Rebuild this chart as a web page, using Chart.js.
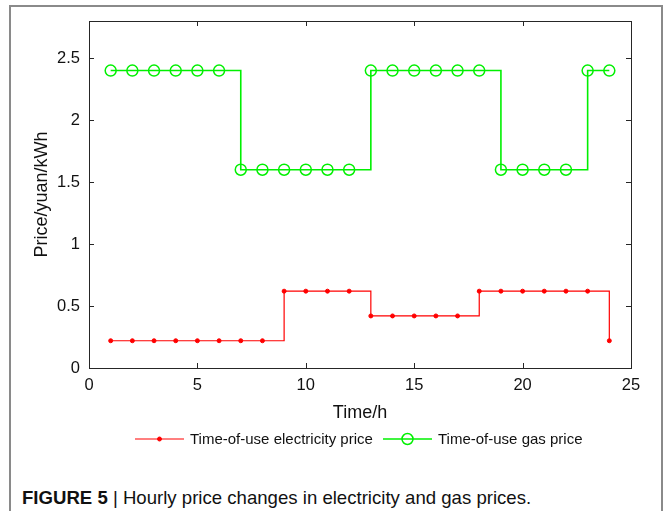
<!DOCTYPE html>
<html>
<head>
<meta charset="utf-8">
<script src="https://cdn.jsdelivr.net/npm/chart.js@4/dist/chart.umd.min.js"></script>
<style>
  html, body { margin: 0; padding: 0; background: #fff; }
  body { width: 669px; height: 511px; position: relative; overflow: hidden; font-family: 'Liberation Sans', Arial, sans-serif; }
  #frame { position: absolute; left: 9px; top: 5px; width: 650px; height: 520px; border: 2px solid #8a8a8a; }
  #wrap { position: absolute; left: 0; top: 0; width: 669px; height: 460px; }
  #caption { position: absolute; left: 22px; top: 487px; font-size: 18.6px; line-height: 22px; color: #111; white-space: nowrap; }
  #caption b { font-weight: bold; }
</style>
</head>
<body>
<div id="frame"></div>
<div id="wrap"><canvas id="priceChart" width="669" height="460"></canvas></div>
<div id="caption"><b>FIGURE 5</b> | Hourly price changes in electricity and gas prices.</div>
<script>
// Hours of the day
const hours = [1, 2, 3, 4, 5, 6, 7, 8, 9, 10, 11, 12, 13, 14, 15, 16, 17, 18, 19, 20, 21, 22, 23, 24];

// Time-of-use electricity price (yuan/kWh)
const elecPrice = [0.22, 0.22, 0.22, 0.22, 0.22, 0.22, 0.22, 0.22,
                   0.62, 0.62, 0.62, 0.62,
                   0.42, 0.42, 0.42, 0.42, 0.42,
                   0.62, 0.62, 0.62, 0.62, 0.62, 0.62,
                   0.22];

// Time-of-use gas price (yuan/kWh)
const gasPrice = [2.4, 2.4, 2.4, 2.4, 2.4, 2.4,
                  1.6, 1.6, 1.6, 1.6, 1.6, 1.6,
                  2.4, 2.4, 2.4, 2.4, 2.4, 2.4,
                  1.6, 1.6, 1.6, 1.6,
                  2.4, 2.4];

const xTicks = [0, 5, 10, 15, 20, 25];
const yTicks = [0, 0.5, 1, 1.5, 2, 2.5];
const seriesNames = ['Time-of-use electricity price', 'Time-of-use gas price'];

const FONT = "'Liberation Sans', Arial, sans-serif";
const AXIS_COLOR = '#262626';

/**
 * Draws the MATLAB-like box, inward ticks, axis titles and the legend
 */
const boxPlugin = {
    id: 'boxPlugin',
    afterDatasetsDraw(chart) {
        const ctx = chart.ctx;
        const area = chart.chartArea;
        const xs = chart.scales.x;
        const ys = chart.scales.y;
        const tick = 5;

        ctx.save();
        ctx.strokeStyle = AXIS_COLOR;
        ctx.lineWidth = 1;
        ctx.strokeRect(Math.round(area.left) + 0.5, Math.round(area.top) + 0.5,
            Math.round(area.right - area.left), Math.round(area.bottom - area.top));

        ctx.beginPath();
        xTicks.forEach(function(v) {
            const px = Math.round(xs.getPixelForValue(v)) + 0.5;
            ctx.moveTo(px, area.bottom); ctx.lineTo(px, area.bottom - tick);
            ctx.moveTo(px, area.top); ctx.lineTo(px, area.top + tick);
        });
        yTicks.forEach(function(v) {
            const py = Math.round(ys.getPixelForValue(v)) + 0.5;
            ctx.moveTo(area.left, py); ctx.lineTo(area.left + tick, py);
            ctx.moveTo(area.right, py); ctx.lineTo(area.right - tick, py);
        });
        ctx.stroke();

        // axis titles
        ctx.fillStyle = '#111';
        ctx.font = '18px ' + FONT;
        ctx.textAlign = 'center';
        ctx.textBaseline = 'middle';
        ctx.fillText('Time/h', (area.left + area.right) / 2, 413);
        ctx.save();
        ctx.translate(42, (area.top + area.bottom) / 2);
        ctx.rotate(-Math.PI / 2);
        ctx.fillText('Price/yuan/kWh', 0, 0);
        ctx.restore();

        // legend
        const ly = 439;
        const items = [
            { ds: chart.data.datasets[0], x0: 135 },
            { ds: chart.data.datasets[1], x0: 383 }
        ];
        ctx.font = '15px ' + FONT;
        ctx.textAlign = 'left';
        items.forEach(function(it) {
            const ds = it.ds;
            ctx.strokeStyle = ds.borderColor;
            ctx.lineWidth = ds.borderWidth;
            ctx.beginPath();
            ctx.moveTo(it.x0, ly); ctx.lineTo(it.x0 + 49, ly);
            ctx.stroke();
            ctx.beginPath();
            ctx.arc(it.x0 + 24.5, ly, ds.pointRadius, 0, Math.PI * 2);
            if (ds.pointBackgroundColor !== 'transparent') {
                ctx.fillStyle = ds.pointBackgroundColor;
                ctx.fill();
            }
            ctx.strokeStyle = ds.pointBorderColor;
            ctx.lineWidth = ds.pointBorderWidth;
            ctx.stroke();
            ctx.fillStyle = '#111';
            ctx.fillText(ds.label, it.x0 + 55, ly + 1);
        });
        ctx.restore();
    }
};

document.addEventListener('DOMContentLoaded', function() {
    const el = document.getElementById('priceChart');

    new Chart(el, {
        type: 'line',
        data: {
            datasets: [{
                label: seriesNames[0],
                data: hours.map(function(h, i) { return { x: h, y: elecPrice[i] }; }),
                borderColor: '#ff0000',
                borderWidth: 1.2,
                stepped: 'before',
                pointRadius: 2,
                pointBackgroundColor: '#ff0000',
                pointBorderColor: '#ff0000',
                pointBorderWidth: 1,
                fill: false
            }, {
                label: seriesNames[1],
                data: hours.map(function(h, i) { return { x: h, y: gasPrice[i] }; }),
                borderColor: '#00f000',
                borderWidth: 1.6,
                stepped: 'before',
                pointRadius: 5.5,
                pointBackgroundColor: 'transparent',
                pointBorderColor: '#00f000',
                pointBorderWidth: 1.5,
                fill: false
            }]
        },
        options: {
            responsive: false,
            animation: false,
            layout: { padding: { left: 0, top: 21, right: 38, bottom: 0 } },
            plugins: {
                legend: { display: false },
                tooltip: { enabled: false }
            },
            scales: {
                x: {
                    type: 'linear',
                    min: 0,
                    max: 25,
                    grid: { display: false, drawTicks: false },
                    border: { display: false },
                    afterBuildTicks: function(scale) {
                        scale.ticks = xTicks.map(function(v) { return { value: v }; });
                    },
                    afterFit: function(scale) { scale.height = 460 - 368; },
                    ticks: {
                        padding: 8,
                        color: '#111',
                        font: { family: FONT, size: 16.5 },
                        callback: function(v) { return String(v); }
                    }
                },
                y: {
                    type: 'linear',
                    min: 0,
                    max: 2.8,
                    grid: { display: false, drawTicks: false },
                    border: { display: false },
                    afterBuildTicks: function(scale) {
                        scale.ticks = yTicks.map(function(v) { return { value: v }; });
                    },
                    afterFit: function(scale) { scale.width = 89; },
                    ticks: {
                        padding: 9,
                        color: '#111',
                        font: { family: FONT, size: 16.5 },
                        callback: function(v) { return String(v); }
                    }
                }
            }
        },
        plugins: [boxPlugin]
    });
});
</script>
</body>
</html>
